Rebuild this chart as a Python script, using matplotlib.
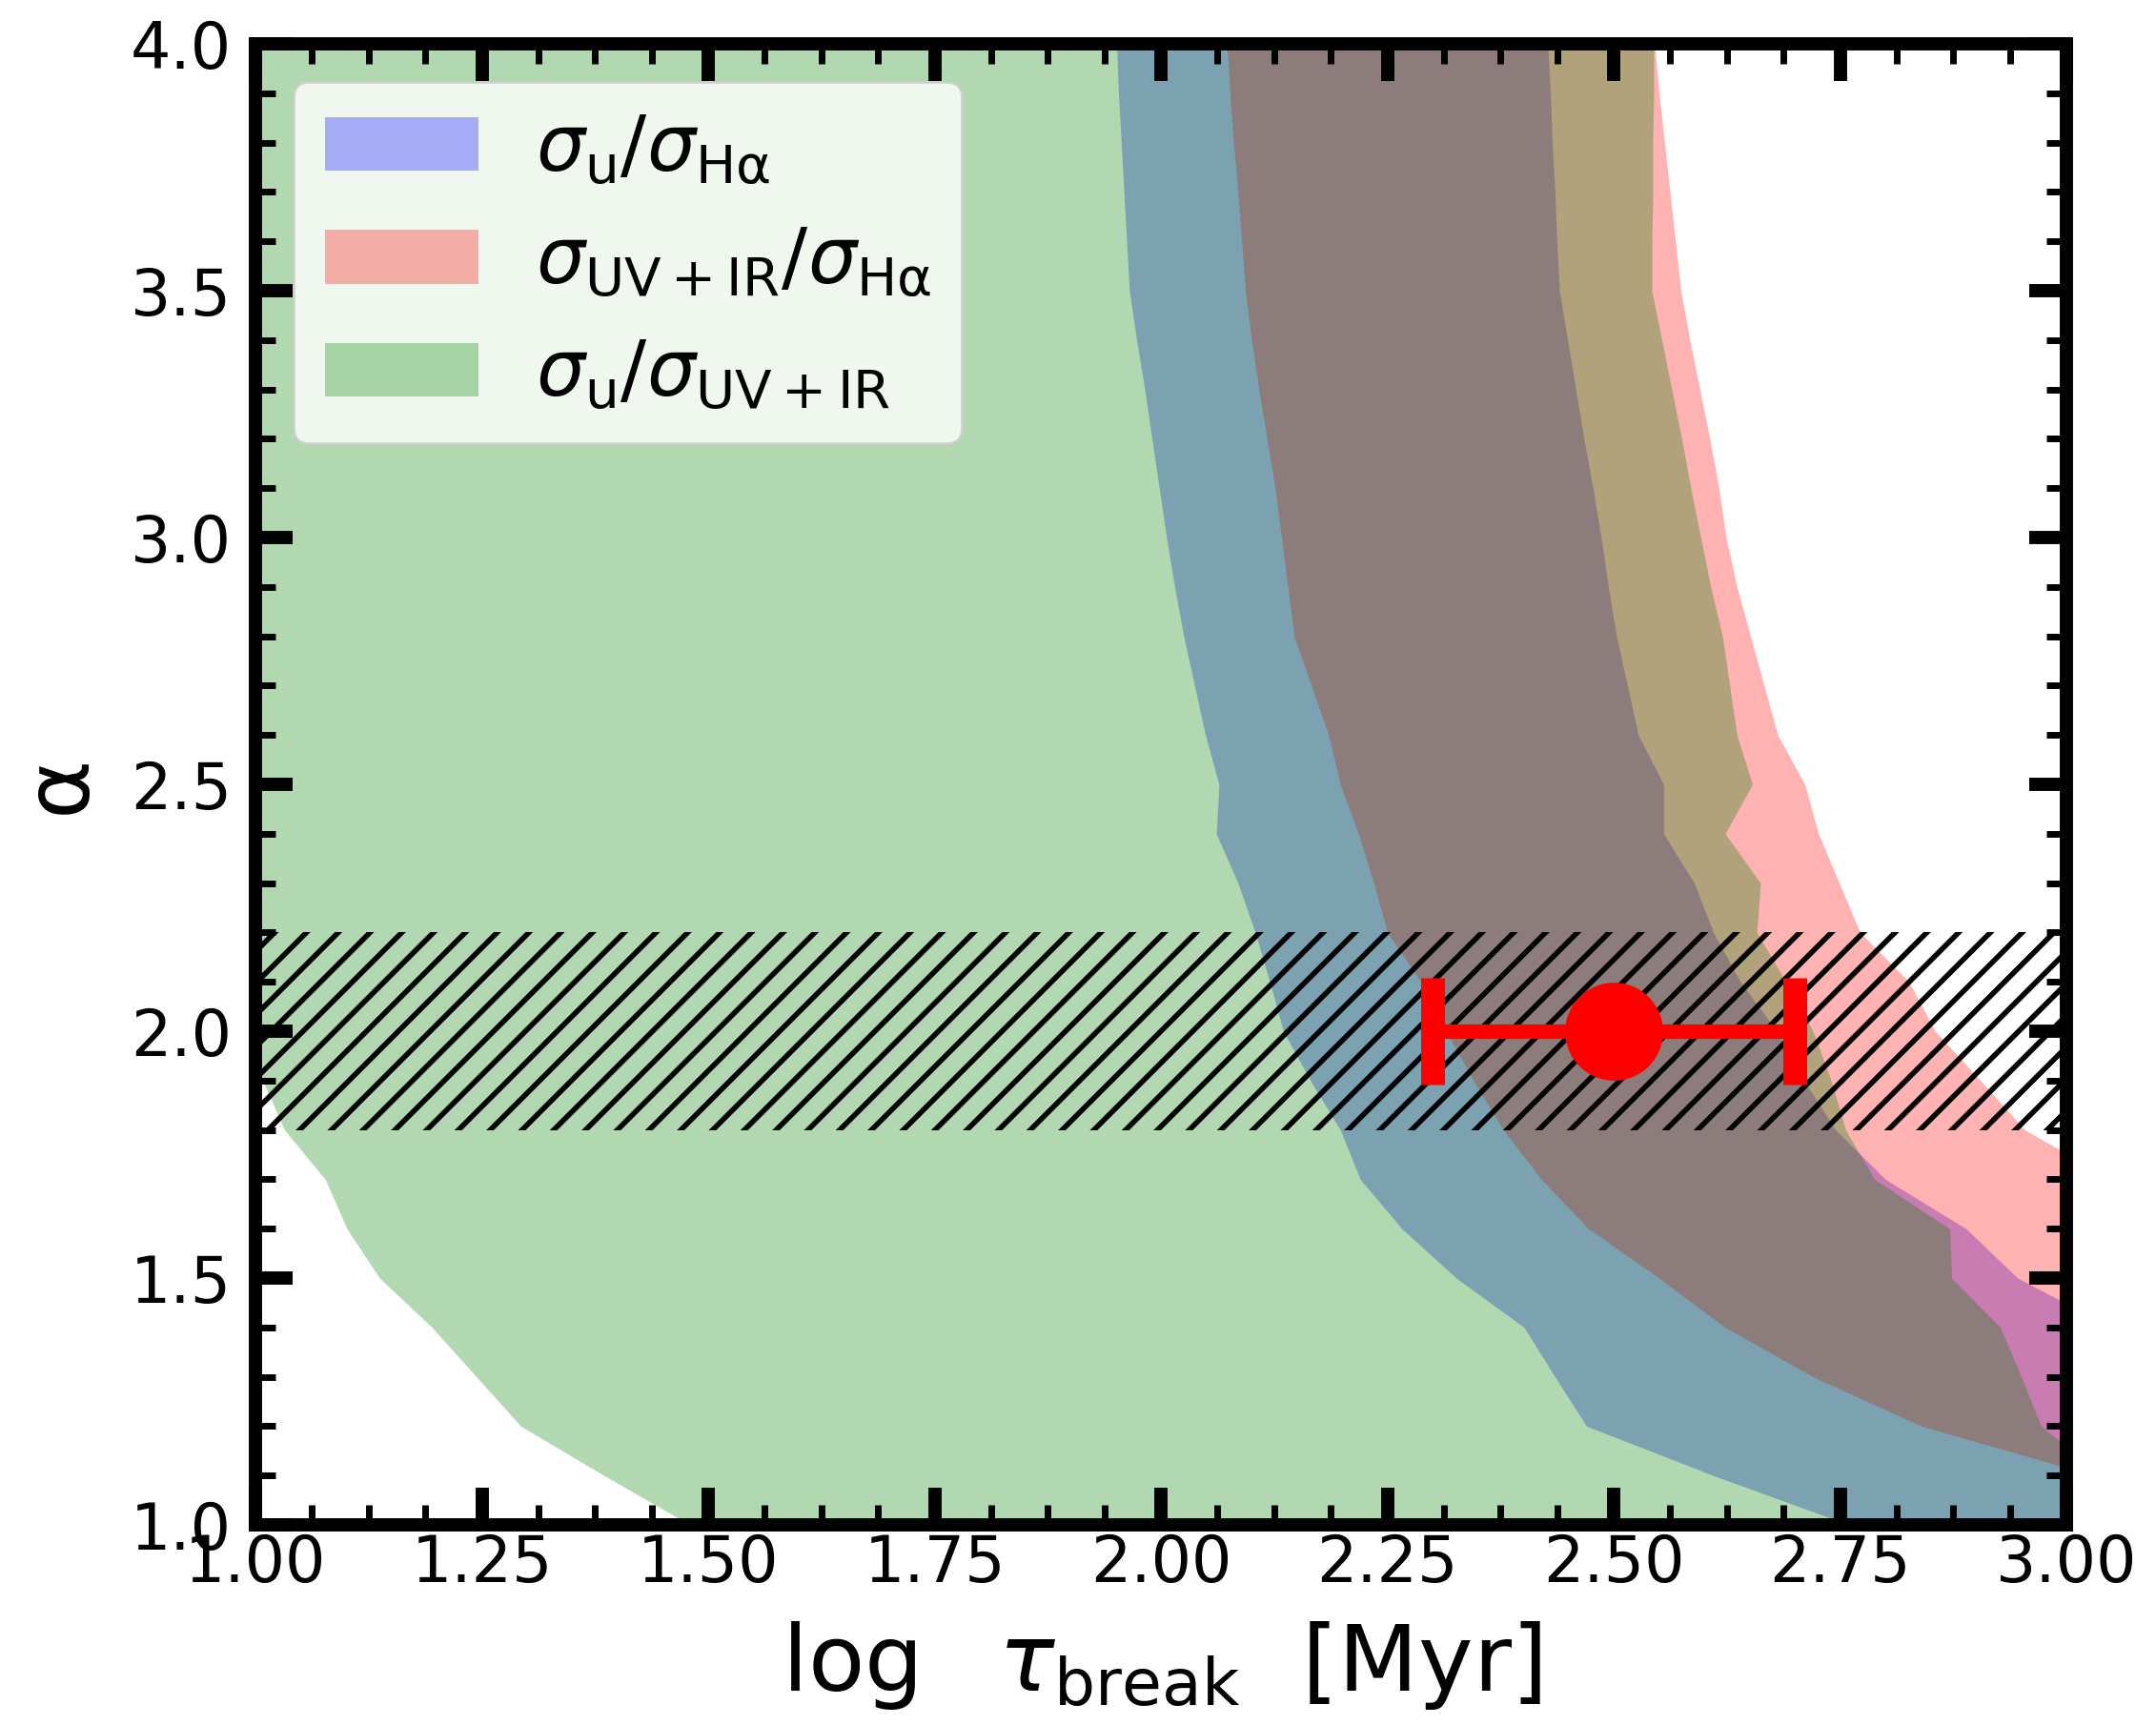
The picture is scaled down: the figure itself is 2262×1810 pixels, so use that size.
import numpy as np
import matplotlib
matplotlib.use('Agg')
import matplotlib.pyplot as plt
from matplotlib.ticker import MultipleLocator, FormatStrFormatter

# power-law slope grid (y axis)
alpha_grid = [1.0, 1.1, 1.2, 1.3, 1.4, 1.5, 1.6, 1.7, 1.8, 1.9, 2.0,
              2.1, 2.2, 2.3, 2.4, 2.5, 2.6, 2.7, 2.8, 2.9, 3.0,
              3.1, 3.2, 3.3, 3.4, 3.5, 3.6, 3.7, 3.8, 3.9, 4.0]

# sigma_u / sigma_Halpha allowed range in log tau_break
blue_lo = [2.76, 2.61, 2.47, 2.435, 2.401, 2.326, 2.266, 2.22, 2.198, 2.165, 2.135,
           2.12, 2.104, 2.085, 2.061, 2.064, 2.049, 2.037, 2.025, 2.015, 2.006,
           1.998, 1.99, 1.982, 1.973, 1.965, 1.962, 1.959, 1.956, 1.953, 1.951]
blue_hi = [3.25, 3.2, 3.15, 3.1, 3.05, 2.946, 2.889, 2.80, 2.745, 2.71, 2.68,
           2.64, 2.61, 2.589, 2.555, 2.555, 2.527, 2.515, 2.503, 2.494, 2.486,
           2.477, 2.467, 2.458, 2.449, 2.44, 2.437, 2.435, 2.432, 2.43, 2.427]

# sigma_UV+IR / sigma_Halpha
red_lo = [3.2, 3.03, 2.84, 2.72, 2.623, 2.55, 2.472, 2.42, 2.378, 2.345, 2.315,
          2.287, 2.25, 2.235, 2.218, 2.198, 2.185, 2.166, 2.147, 2.14, 2.133,
          2.126, 2.117, 2.108, 2.1, 2.093, 2.089, 2.085, 2.08, 2.076, 2.073]
red_hi = [3.4, 3.35, 3.3, 3.25, 3.2, 3.15, 3.1, 3.05, 2.954, 2.905, 2.855,
          2.826, 2.772, 2.749, 2.726, 2.711, 2.681, 2.666, 2.651, 2.636, 2.624,
          2.616, 2.606, 2.595, 2.584, 2.574, 2.568, 2.562, 2.556, 2.55, 2.545]

# sigma_u / sigma_UV+IR
green_lo = [1.48, 1.385, 1.293, 1.244, 1.195, 1.137, 1.101, 1.077, 1.032, 1.008, 0.95,
            0.95, 0.95, 0.95, 0.95, 0.95, 0.95, 0.95, 0.95, 0.95, 0.95,
            0.95, 0.95, 0.95, 0.95, 0.95, 0.95, 0.95, 0.95, 0.95, 0.95]
green_hi = [3.1, 3.04, 2.972, 2.95, 2.927, 2.873, 2.871, 2.788, 2.756, 2.74, 2.72,
            2.69, 2.658, 2.662, 2.623, 2.653, 2.636, 2.628, 2.62, 2.607, 2.596,
            2.585, 2.575, 2.564, 2.553, 2.542, 2.542, 2.543, 2.543, 2.544, 2.544]

# measured value
point_x = 2.5
point_y = 2.0
point_xerr = 0.2

# observed alpha band
band_lo = 1.8
band_hi = 2.2

plt.rcParams['hatch.linewidth'] = 2.0
plt.rcParams['mathtext.fontset'] = 'dejavusans'

fig = plt.figure(figsize=(11.31, 9.05), dpi=200)
ax = fig.add_axes([0.1185, 0.116, 0.84, 0.8586])

ax.fill_betweenx(alpha_grid, blue_lo, blue_hi, color='blue', alpha=0.3, lw=0,
                 label=r'$\sigma_{\rm u}/\sigma_{\rm H\alpha}$')
ax.fill_betweenx(alpha_grid, red_lo, red_hi, color='red', alpha=0.3, lw=0,
                 label=r'$\sigma_{\rm UV+IR}/\sigma_{\rm H\alpha}$')
ax.fill_betweenx(alpha_grid, green_lo, green_hi, color='green', alpha=0.3, lw=0,
                 label=r'$\sigma_{\rm u}/\sigma_{\rm UV+IR}$')

ax.axhspan(band_lo, band_hi, facecolor='none', edgecolor='k', lw=0, hatch='//', zorder=3)

ax.errorbar(point_x, point_y, xerr=point_xerr, fmt='o', color='red', ms=36,
            elinewidth=5.5, capsize=20, capthick=9, zorder=5)

ax.set_xlim(1.0, 3.0)
ax.set_ylim(1.0, 4.0)
ax.xaxis.set_major_locator(MultipleLocator(0.25))
ax.xaxis.set_minor_locator(MultipleLocator(0.0625))
ax.yaxis.set_major_locator(MultipleLocator(0.5))
ax.yaxis.set_minor_locator(MultipleLocator(0.1))
ax.xaxis.set_major_formatter(FormatStrFormatter('%.2f'))
ax.yaxis.set_major_formatter(FormatStrFormatter('%.1f'))

ax.tick_params(which='both', direction='in', top=True, right=True, labelsize=24)
ax.tick_params(which='major', length=14, width=5)
ax.tick_params(which='minor', length=7.5, width=2.5)
ax.tick_params(axis='x', pad=3)
ax.tick_params(axis='y', pad=9)
for sp in ax.spines.values():
    sp.set_linewidth(5)

ax.set_xlabel(r'$\log\ \ \tau_{\rm break}\ \ [{\rm Myr}]$', fontsize=35, labelpad=9)
ax.set_ylabel('α', fontsize=34, labelpad=10)

ax.legend(loc='upper left', fontsize=29, handletextpad=0.75)

fig.savefig('out.png', dpi=200)
